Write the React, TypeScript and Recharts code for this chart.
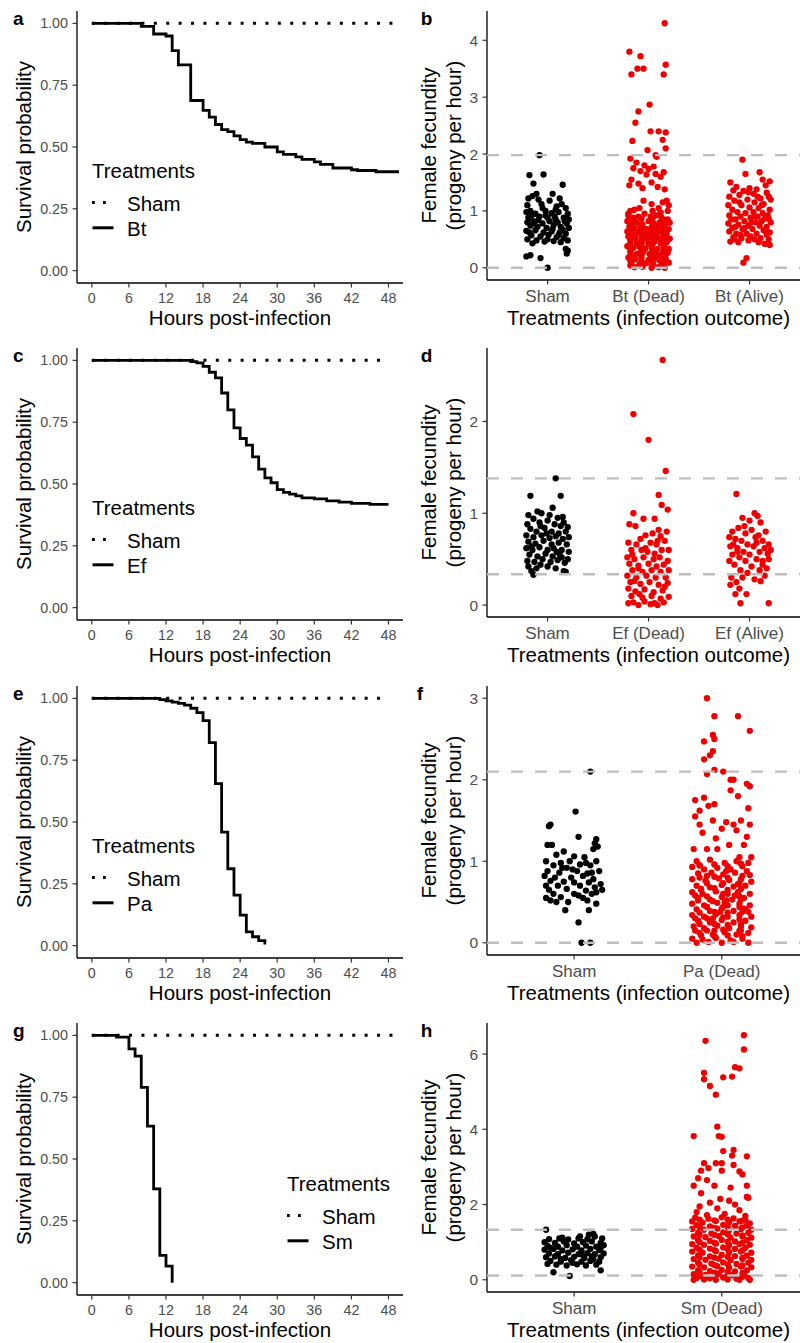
import React from 'react';
import { LineChart, Line, XAxis, YAxis, ScatterChart, Scatter, Legend } from 'recharts';

const FONT = '"Liberation Sans", Arial, Helvetica, sans-serif';
const RED = '#EE0000';
const BLACK = '#000000';
const DASH_GREY = '#BEBEBE';
const TICK_GREY = '#4D4D4D';

// ---------- survival panels (a, c, e, g) ----------
const hourTicks = [0, 6, 12, 18, 24, 30, 36, 42, 48];
const survTicks = [0, 0.25, 0.5, 0.75, 1];

const btTimes = [0, 8, 10, 12, 13, 14, 16, 18, 19, 20, 21, 22, 23, 24, 25, 26, 28, 30, 31, 33, 34, 36, 37, 39, 42, 43, 46, 49.7];
const btSurv = [1, 0.988, 0.957, 0.949, 0.89, 0.832, 0.688, 0.648, 0.621, 0.591, 0.57, 0.562, 0.545, 0.53, 0.52, 0.515, 0.5, 0.48, 0.47, 0.46, 0.45, 0.44, 0.43, 0.415, 0.408, 0.405, 0.4, 0.4];

const efTimes = [0, 16, 17, 18, 19, 20, 21, 22, 23, 24, 25, 26, 27, 28, 29, 30, 31, 32, 33, 34, 36, 38, 40, 42, 45, 48];
const efSurv = [1, 0.995, 0.99, 0.976, 0.952, 0.929, 0.868, 0.8, 0.727, 0.684, 0.657, 0.61, 0.56, 0.525, 0.505, 0.477, 0.466, 0.459, 0.452, 0.444, 0.44, 0.432, 0.427, 0.422, 0.418, 0.418];

const paTimes = [0, 11, 12, 13, 14, 15, 16, 17, 18, 19, 20, 21, 22, 23, 24, 25, 26, 27, 28, 28.2];
const paSurv = [1, 0.995, 0.99, 0.985, 0.98, 0.973, 0.96, 0.942, 0.91, 0.821, 0.655, 0.459, 0.311, 0.204, 0.123, 0.056, 0.036, 0.02, 0.01, 0.01];

const smTimes = [0, 4, 6, 7, 8, 9, 10, 11, 12, 13];
const smSurv = [1, 0.993, 0.945, 0.916, 0.79, 0.633, 0.379, 0.11, 0.067, 0];

// ---------- fecundity panels (b, d, f, h) : [jitter, value] ----------
type Pt = [number, number];

const bCats = ['Sham', 'Bt (Dead)', 'Bt (Alive)'];
const dCats = ['Sham', 'Ef (Dead)', 'Ef (Alive)'];
const fCats = ['Sham', 'Pa (Dead)'];
const hCats = ['Sham', 'Sm (Dead)'];

const bSham: Pt[] = [
  [-0.08, 1.98], [0.0, 0.0], [-0.18, 1.63], [-0.04, 1.64], [-0.14, 1.48], [0.15, 1.46], [0.05, 1.3], [-0.11, 1.3], [-0.19, 1.22], [-0.15, 1.26],
  [-0.09, 1.2], [0.12, 1.22], [0.02, 1.18], [0.14, 1.12], [-0.2, 1.1], [-0.06, 1.12], [0.09, 1.08], [0.18, 1.05], [-0.21, 0.98], [-0.17, 1.0],
  [-0.12, 0.95], [-0.02, 1.0], [0.04, 0.96], [0.11, 0.98], [0.2, 0.95], [-0.19, 0.88], [-0.08, 0.9], [0.0, 0.88], [0.07, 0.9], [0.16, 0.88],
  [0.21, 0.85], [-0.2, 0.8], [-0.14, 0.82], [-0.05, 0.78], [0.02, 0.82], [0.1, 0.8], [0.19, 0.78], [-0.17, 0.74], [-0.1, 0.72], [-0.01, 0.7],
  [0.06, 0.75], [0.13, 0.72], [0.21, 0.7], [-0.21, 0.65], [-0.12, 0.66], [-0.04, 0.62], [0.04, 0.64], [0.12, 0.62], [0.18, 0.6], [-0.16, 0.57],
  [-0.07, 0.55], [0.01, 0.58], [0.09, 0.54], [0.16, 0.52], [-0.2, 0.5], [-0.11, 0.48], [-0.03, 0.46], [0.06, 0.47], [0.13, 0.45], [-0.15, 0.43],
  [0.0, 0.5], [0.2, 0.48], [-0.21, 0.2], [-0.17, 0.22], [-0.07, 0.17], [0.19, 0.25], [0.18, 0.33], [0.2, 0.3], [-0.16, 0.92], [0.08, 0.85],
  [-0.09, 0.84], [0.15, 0.67], [-0.18, 0.62], [0.05, 0.68], [-0.13, 0.78], [0.17, 0.82], [-0.02, 0.92], [0.11, 0.58], [0.08, 1.02], [-0.05, 1.05],
];

const bDead: Pt[] = [
  [0.16, 4.3], [-0.19, 3.8], [-0.08, 3.72], [0.17, 3.57], [-0.11, 3.5], [-0.05, 3.5], [-0.17, 3.4], [0.15, 3.4], [0.01, 2.87], [-0.1, 2.75],
  [-0.13, 2.55], [0.02, 2.4], [0.1, 2.4], [0.17, 2.38], [0.14, 2.25], [-0.16, 2.23], [0.17, 2.1], [-0.01, 2.07], [0.07, 1.98], [0.08, 1.95],
  [-0.18, 1.92], [-0.12, 1.85], [-0.04, 1.8], [0.05, 1.78], [-0.15, 1.75], [0.0, 1.74], [0.15, 1.68], [-0.08, 1.7], [-0.02, 1.64], [0.07, 1.65],
  [-0.17, 1.55], [0.12, 1.6], [-0.19, 1.45], [-0.1, 1.48], [0.03, 1.5], [-0.06, 1.4], [0.16, 1.38], [0.09, 1.42], [0.18, 1.18], [0.14, 1.15],
  [0.2, 1.1], [0.03, 1.12], [-0.05, 1.18], [0.1, 1.05], [-0.14, 1.02], [0.19, 1.0], [-0.2, 0.95], [-0.18, 1.0], [0.04, 1.0], [-0.09, 1.05],
  [0.12, 0.97], [-0.2, 0.92], [-0.15, 0.88], [-0.1, 0.9], [-0.04, 0.95], [0.02, 0.9], [0.08, 0.92], [0.13, 0.88], [0.19, 0.85], [-0.21, 0.82],
  [-0.17, 0.78], [-0.12, 0.8], [-0.06, 0.76], [0.0, 0.82], [0.05, 0.78], [0.11, 0.8], [0.16, 0.76], [0.21, 0.79], [-0.19, 0.72], [-0.14, 0.7],
  [-0.08, 0.73], [-0.02, 0.68], [0.03, 0.71], [0.09, 0.69], [0.14, 0.72], [0.2, 0.68], [-0.21, 0.64], [-0.16, 0.61], [-0.11, 0.63], [-0.05, 0.6],
  [0.01, 0.62], [0.07, 0.6], [0.12, 0.63], [0.18, 0.6], [-0.2, 0.55], [-0.13, 0.53], [-0.07, 0.56], [-0.01, 0.52], [0.05, 0.55], [0.1, 0.52],
  [0.16, 0.54], [0.21, 0.51], [-0.18, 0.46], [-0.12, 0.44], [-0.06, 0.47], [0.0, 0.43], [0.06, 0.46], [0.12, 0.43], [0.18, 0.45], [-0.21, 0.38],
  [-0.15, 0.35], [-0.09, 0.37], [-0.03, 0.34], [0.03, 0.37], [0.09, 0.33], [0.15, 0.36], [0.2, 0.33], [-0.18, 0.27], [-0.11, 0.25], [-0.05, 0.28],
  [0.01, 0.24], [0.07, 0.27], [0.13, 0.24], [0.19, 0.26], [-0.2, 0.18], [-0.13, 0.15], [-0.07, 0.17], [0.0, 0.14], [0.06, 0.16], [0.11, 0.13],
  [0.17, 0.16], [-0.17, 0.08], [-0.09, 0.06], [-0.02, 0.08], [0.05, 0.05], [0.13, 0.07], [0.2, 0.09], [-0.14, 0.01], [-0.06, 0.02], [0.03, 0.0],
  [0.1, 0.01], [0.16, 0.0], [-0.16, 0.67], [0.08, 0.75], [-0.03, 0.58], [0.15, 0.5], [-0.1, 0.42], [0.04, 0.3], [-0.15, 0.22], [0.1, 0.2],
  [-0.18, 0.87], [-0.07, 0.86], [0.04, 0.87], [0.15, 0.84], [-0.18, 0.75], [-0.07, 0.76], [0.04, 0.74], [0.15, 0.75], [-0.18, 0.66], [-0.07, 0.67],
  [0.04, 0.66], [0.15, 0.65], [-0.18, 0.58], [-0.07, 0.58], [0.04, 0.58], [0.15, 0.58], [-0.18, 0.5], [-0.07, 0.5], [0.04, 0.51], [0.15, 0.49],
  [-0.18, 0.41], [-0.07, 0.4], [0.04, 0.41], [0.15, 0.4], [-0.18, 0.31], [-0.07, 0.3], [0.04, 0.31], [0.15, 0.3], [-0.18, 0.21], [-0.07, 0.22],
  [0.04, 0.2], [0.15, 0.21], [-0.18, 0.12], [-0.07, 0.11], [0.04, 0.12], [0.15, 0.11], [-0.18, 0.04], [-0.07, 0.03], [0.04, 0.04], [0.15, 0.03],
];

const bAlive: Pt[] = [
  [-0.07, 1.9], [-0.04, 1.65], [0.1, 1.68], [-0.19, 1.5], [0.13, 1.55], [0.2, 1.52], [0.16, 1.45], [-0.13, 1.42], [0.0, 1.4], [0.07, 1.38],
  [-0.16, 1.36], [-0.06, 1.35], [0.04, 1.3], [0.17, 1.32], [0.21, 1.2], [0.19, 1.25], [-0.2, 1.25], [-0.1, 1.28], [0.11, 1.22], [-0.15, 1.18],
  [-0.02, 1.2], [0.05, 1.15], [0.14, 1.12], [-0.21, 1.1], [-0.08, 1.1], [0.0, 1.06], [0.09, 1.05], [0.2, 1.02], [-0.17, 1.02], [-0.12, 0.98],
  [-0.04, 0.96], [0.04, 0.98], [0.13, 0.96], [0.18, 0.92], [-0.2, 0.92], [-0.09, 0.9], [0.01, 0.88], [0.08, 0.9], [0.15, 0.86], [-0.14, 0.85],
  [-0.05, 0.82], [0.06, 0.8], [0.12, 0.82], [0.21, 0.8], [-0.21, 0.78], [-0.11, 0.76], [-0.01, 0.74], [0.1, 0.74], [0.17, 0.72], [-0.17, 0.7],
  [-0.07, 0.68], [0.03, 0.68], [0.14, 0.66], [0.2, 0.62], [-0.2, 0.64], [-0.13, 0.6], [-0.03, 0.6], [0.07, 0.6], [0.17, 0.58], [-0.16, 0.54],
  [-0.08, 0.52], [0.01, 0.55], [0.11, 0.52], [0.19, 0.5], [-0.19, 0.46], [-0.11, 0.45], [-0.01, 0.48], [0.09, 0.45], [0.15, 0.42], [0.2, 0.4],
  [-0.15, 0.5], [0.05, 0.5], [-0.05, 0.7], [0.02, 0.8], [-0.18, 0.85], [0.19, 0.86], [-0.03, 0.17], [-0.06, 0.09], [0.12, 1.1], [-0.1, 1.15],
  [0.08, 1.25], [-0.01, 1.33], [-0.14, 0.72], [0.16, 0.64], [-0.09, 0.58], [0.05, 0.9],
];

const dSham: Pt[] = [
  [0.08, 1.38], [-0.17, 1.19], [0.13, 1.19], [0.05, 1.06], [-0.1, 1.02], [-0.06, 1.0], [-0.19, 0.98], [0.16, 0.9], [0.02, 0.98], [-0.14, 0.94],
  [0.1, 0.95], [-0.2, 0.88], [-0.08, 0.9], [0.0, 0.92], [0.07, 0.88], [0.13, 0.86], [0.2, 0.85], [-0.17, 0.83], [-0.11, 0.8], [-0.03, 0.84],
  [0.04, 0.8], [0.11, 0.78], [0.18, 0.8], [-0.21, 0.76], [-0.14, 0.74], [-0.06, 0.76], [0.02, 0.73], [0.08, 0.75], [0.15, 0.72], [0.21, 0.74],
  [-0.19, 0.69], [-0.12, 0.67], [-0.04, 0.7], [0.04, 0.66], [0.11, 0.68], [0.19, 0.66], [-0.21, 0.62], [-0.15, 0.6], [-0.08, 0.63], [0.0, 0.6],
  [0.06, 0.62], [0.14, 0.6], [0.21, 0.58], [-0.18, 0.55], [-0.1, 0.53], [-0.02, 0.56], [0.05, 0.53], [0.12, 0.55], [0.2, 0.5], [-0.2, 0.48],
  [-0.13, 0.47], [-0.05, 0.5], [0.03, 0.47], [0.1, 0.49], [0.17, 0.46], [-0.19, 0.42], [-0.11, 0.4], [0.0, 0.42], [0.08, 0.4], [-0.16, 0.37],
  [-0.14, 0.33], [0.16, 0.37], [0.18, 0.36], [-0.07, 0.86], [0.15, 0.96], [-0.01, 0.78], [-0.16, 0.64], [0.09, 0.58], [-0.07, 0.44], [0.14, 0.52],
];

const dDead: Pt[] = [
  [0.14, 2.67], [-0.15, 2.08], [0.0, 1.8], [0.17, 1.46], [0.1, 1.2], [0.13, 1.09], [0.19, 1.04], [-0.15, 1.0], [-0.05, 0.94], [0.06, 0.94],
  [-0.19, 0.88], [-0.13, 0.86], [0.18, 0.8], [0.1, 0.82], [-0.03, 0.76], [0.04, 0.78], [0.12, 0.75], [-0.08, 0.72], [0.16, 0.7], [-0.2, 0.68],
  [-0.12, 0.66], [0.02, 0.68], [0.08, 0.66], [0.2, 0.6], [-0.17, 0.6], [-0.07, 0.6], [0.13, 0.6], [-0.01, 0.58], [-0.21, 0.52], [-0.14, 0.5],
  [-0.05, 0.52], [0.05, 0.5], [0.11, 0.52], [0.19, 0.48], [-0.19, 0.45], [-0.1, 0.43], [0.0, 0.45], [0.08, 0.42], [0.15, 0.44], [-0.16, 0.38],
  [-0.06, 0.36], [0.03, 0.38], [0.12, 0.36], [0.2, 0.38], [-0.21, 0.32], [-0.12, 0.3], [-0.02, 0.32], [0.07, 0.3], [0.17, 0.3], [-0.18, 0.25],
  [-0.08, 0.23], [0.01, 0.25], [0.1, 0.22], [0.19, 0.24], [-0.2, 0.18], [-0.13, 0.15], [-0.04, 0.17], [0.05, 0.14], [0.14, 0.16], [-0.17, 0.1],
  [-0.06, 0.08], [0.03, 0.1], [0.12, 0.07], [0.2, 0.09], [-0.15, 0.03], [-0.04, 0.04], [0.06, 0.02], [0.15, 0.03], [-0.2, 0.02], [0.09, 0.0],
  [-0.1, 0.0], [0.02, 0.01], [-0.16, 0.55], [0.06, 0.56], [-0.1, 0.4], [0.16, 0.2], [-0.09, 0.12], [-0.03, 0.62], [0.09, 0.7], [-0.14, 0.26],
];

const dAlive: Pt[] = [
  [-0.13, 1.21], [0.05, 1.0], [0.08, 0.97], [-0.07, 0.95], [0.11, 0.9], [0.0, 0.92], [-0.17, 0.8], [-0.11, 0.84], [0.02, 0.82], [0.16, 0.8],
  [-0.04, 0.78], [0.09, 0.76], [-0.2, 0.74], [-0.14, 0.72], [0.06, 0.74], [0.13, 0.7], [-0.08, 0.7], [0.19, 0.66], [-0.02, 0.66], [-0.19, 0.64],
  [0.04, 0.64], [0.15, 0.62], [0.21, 0.6], [-0.12, 0.62], [-0.06, 0.58], [0.1, 0.58], [-0.17, 0.55], [0.0, 0.55], [0.18, 0.56], [-0.1, 0.52],
  [0.07, 0.5], [-0.2, 0.48], [-0.04, 0.48], [0.13, 0.48], [-0.15, 0.44], [0.02, 0.42], [0.17, 0.4], [-0.09, 0.38], [0.1, 0.38], [-0.02, 0.35],
  [0.15, 0.32], [-0.18, 0.3], [-0.07, 0.3], [0.05, 0.28], [0.11, 0.26], [-0.13, 0.25], [-0.19, 0.22], [-0.1, 0.18], [-0.14, 0.12], [-0.03, 0.12],
  [-0.09, 0.02], [0.19, 0.02], [0.13, 0.44], [-0.12, 0.58], [0.07, 0.68], [-0.05, 0.86], [0.19, 0.5], [-0.16, 0.66],
];

const fSham: Pt[] = [
  [0.11, 2.1], [0.05, 0.0], [0.11, 0.0], [0.01, 1.61], [0.03, 0.25], [0.1, 0.4], [-0.06, 0.4], [0.15, 0.48], [-0.17, 1.43], [-0.16, 1.45],
  [0.03, 1.3], [0.15, 1.27], [0.14, 1.22], [0.16, 1.18], [-0.18, 1.2], [-0.15, 1.2], [-0.07, 1.12], [0.13, 1.15], [-0.12, 1.08], [0.0, 1.06],
  [0.07, 1.05], [-0.03, 1.0], [0.15, 1.0], [-0.19, 1.0], [-0.09, 0.98], [0.11, 0.95], [-0.14, 0.95], [0.04, 0.96], [-0.05, 0.92], [0.17, 0.88],
  [-0.18, 0.88], [-0.1, 0.86], [0.02, 0.88], [0.09, 0.85], [-0.2, 0.82], [-0.13, 0.8], [-0.02, 0.8], [0.06, 0.82], [0.13, 0.78], [-0.16, 0.76],
  [-0.07, 0.75], [0.0, 0.74], [0.1, 0.74], [0.18, 0.72], [-0.19, 0.7], [-0.11, 0.7], [0.04, 0.7], [0.14, 0.68], [0.19, 0.65], [-0.17, 0.65],
  [-0.05, 0.66], [0.08, 0.64], [-0.14, 0.6], [0.0, 0.6], [0.12, 0.6], [-0.19, 0.55], [-0.09, 0.56], [0.06, 0.55], [0.03, 0.58], [-0.16, 0.52],
  [-0.12, 0.5], [-0.04, 0.5], [0.09, 0.52], [0.15, 0.62], [-0.08, 0.92], [0.08, 0.98], [-0.01, 0.9], [0.12, 0.86],
];

const fDead: Pt[] = [
  [-0.1, 3.0], [-0.05, 2.78], [0.11, 2.78], [0.19, 2.6], [-0.06, 2.55], [-0.05, 2.5], [-0.12, 2.47], [-0.06, 2.35], [-0.08, 2.3], [-0.12, 2.25],
  [-0.05, 2.12], [-0.1, 2.07], [0.01, 2.1], [0.06, 2.0], [0.08, 2.0], [0.17, 1.95], [0.19, 1.92], [0.06, 1.87], [0.11, 1.8], [-0.12, 1.78],
  [-0.18, 1.75], [-0.05, 1.7], [-0.09, 1.68], [-0.15, 1.62], [0.18, 1.65], [-0.18, 1.55], [-0.06, 1.5], [0.03, 1.48], [0.13, 1.5], [0.08, 1.45],
  [-0.15, 1.45], [0.19, 1.45], [0.0, 1.4], [-0.13, 1.35], [0.1, 1.38], [0.17, 1.3], [-0.04, 1.28], [-0.19, 1.15], [-0.1, 1.15], [-0.03, 1.15],
  [0.05, 1.2], [0.15, 1.2], [0.2, 1.05], [0.12, 1.05], [-0.17, 1.0], [-0.08, 1.02], [0.02, 0.98], [0.1, 1.0], [0.18, 0.98], [-0.2, 0.93],
  [-0.12, 0.9], [-0.03, 0.92], [0.06, 0.9], [0.14, 0.94], [-0.16, 0.85], [-0.07, 0.86], [0.01, 0.84], [0.09, 0.86], [0.19, 0.83], [-0.2, 0.78],
  [-0.11, 0.76], [-0.02, 0.79], [0.05, 0.77], [0.13, 0.78], [0.2, 0.75], [-0.17, 0.7], [-0.08, 0.68], [0.0, 0.71], [0.08, 0.69], [0.16, 0.7],
  [-0.2, 0.62], [-0.13, 0.6], [-0.04, 0.63], [0.04, 0.6], [0.11, 0.62], [0.19, 0.6], [-0.16, 0.55], [-0.08, 0.53], [0.0, 0.56], [0.07, 0.53],
  [0.15, 0.55], [-0.2, 0.48], [-0.12, 0.46], [-0.03, 0.49], [0.04, 0.46], [0.12, 0.48], [0.19, 0.46], [-0.17, 0.41], [-0.08, 0.39], [0.0, 0.42],
  [0.08, 0.39], [0.16, 0.41], [-0.2, 0.34], [-0.12, 0.32], [-0.04, 0.35], [0.04, 0.32], [0.12, 0.34], [0.2, 0.32], [-0.16, 0.27], [-0.08, 0.25],
  [0.0, 0.28], [0.08, 0.25], [0.16, 0.27], [-0.19, 0.2], [-0.12, 0.18], [-0.03, 0.21], [0.05, 0.18], [0.13, 0.2], [0.2, 0.19], [-0.15, 0.12],
  [-0.06, 0.1], [0.02, 0.13], [0.1, 0.1], [0.18, 0.12], [-0.2, 0.05], [-0.13, 0.04], [-0.04, 0.06], [0.06, 0.03], [0.14, 0.05], [-0.17, 0.0],
  [-0.09, 0.01], [0.0, 0.0], [0.08, 0.01], [0.18, 0.0], [-0.14, 0.65], [0.02, 0.5], [-0.06, 0.3], [0.13, 0.15], [-0.1, 0.82], [0.17, 0.88],
  [-0.01, 0.38], [0.09, 0.58], [-0.18, 0.3], [0.11, 0.72], [-0.05, 0.15], [0.15, 0.42], [-0.15, 0.95], [0.03, 0.88],
  [-0.15, 0.95], [-0.05, 0.96], [0.04, 0.94], [0.13, 0.97], [-0.15, 0.8], [-0.05, 0.81], [0.04, 0.8], [0.14, 0.82], [-0.14, 0.66], [-0.05, 0.67],
  [0.04, 0.65], [0.13, 0.66], [-0.16, 0.52], [-0.06, 0.51], [0.03, 0.52], [0.13, 0.53], [-0.15, 0.37], [-0.05, 0.38], [0.04, 0.37], [0.14, 0.38],
  [-0.15, 0.23], [-0.05, 0.23], [0.04, 0.22], [0.13, 0.23], [-0.14, 0.09], [-0.05, 0.08], [0.04, 0.09], [0.14, 0.08],
  [-0.1, 0.57], [0.01, 0.6], [0.12, 0.57], [-0.1, 0.44], [0.01, 0.44], [0.12, 0.44], [-0.1, 0.3], [0.01, 0.31], [0.12, 0.29], [-0.1, 0.15],
  [0.01, 0.16], [0.12, 0.15], [-0.1, 0.73], [0.01, 0.73], [0.12, 0.73], [-0.18, 0.58], [0.18, 0.38], [-0.18, 0.15],
];

const hSham: Pt[] = [
  [-0.19, 1.33], [-0.03, 0.1], [-0.14, 0.2], [0.18, 0.25], [-0.17, 1.08], [-0.1, 1.1], [-0.04, 1.07], [0.03, 1.1], [0.09, 1.08], [0.14, 1.15],
  [0.19, 1.1], [-0.2, 1.0], [-0.13, 0.98], [-0.07, 1.02], [0.0, 0.97], [0.06, 1.0], [0.12, 1.02], [0.18, 0.98], [-0.18, 0.9], [-0.11, 0.88],
  [-0.05, 0.92], [0.02, 0.88], [0.08, 0.91], [0.15, 0.88], [0.2, 0.92], [-0.2, 0.8], [-0.14, 0.82], [-0.08, 0.78], [-0.01, 0.81], [0.05, 0.78],
  [0.11, 0.82], [0.17, 0.79], [-0.17, 0.7], [-0.11, 0.68], [-0.04, 0.72], [0.03, 0.68], [0.09, 0.71], [0.14, 0.68], [0.2, 0.7], [-0.19, 0.6],
  [-0.13, 0.62], [-0.06, 0.58], [0.0, 0.61], [0.07, 0.58], [0.12, 0.62], [0.18, 0.6], [-0.16, 0.5], [-0.09, 0.48], [-0.02, 0.52], [0.05, 0.48],
  [0.11, 0.5], [0.17, 0.48], [-0.18, 0.42], [-0.12, 0.4], [-0.05, 0.38], [0.02, 0.41], [0.08, 0.38], [0.15, 0.4], [0.1, 1.2], [0.13, 1.22],
  [-0.08, 1.12], [0.04, 1.15], [-0.16, 0.85], [0.06, 0.65], [-0.09, 0.55], [0.18, 0.85], [-0.01, 0.45], [0.13, 0.55],
];

const hDead: Pt[] = [
  [0.15, 6.5], [-0.11, 6.35], [0.15, 6.12], [0.09, 5.65], [0.12, 5.62], [-0.12, 5.5], [0.07, 5.4], [0.01, 5.38], [-0.12, 5.33], [-0.08, 5.15],
  [-0.04, 4.92], [-0.03, 4.07], [-0.19, 3.82], [-0.02, 3.82], [0.0, 3.8], [0.08, 3.45], [0.01, 3.42], [0.07, 3.3], [0.17, 3.28], [-0.12, 3.1],
  [-0.04, 3.1], [0.0, 3.1], [0.08, 3.05], [-0.09, 2.97], [0.0, 2.9], [-0.14, 2.9], [0.12, 2.88], [0.14, 2.8], [-0.16, 2.7], [-0.1, 2.65],
  [-0.19, 2.5], [-0.05, 2.5], [0.17, 2.5], [0.06, 2.45], [-0.14, 2.3], [0.17, 2.2], [0.18, 2.18], [-0.01, 2.15], [0.05, 2.1], [-0.08, 2.05],
  [0.09, 2.0], [-0.15, 1.95], [-0.03, 1.9], [0.12, 1.85], [-0.17, 1.8], [0.02, 1.75], [0.16, 1.7], [-0.1, 1.72],
  [-0.18, 1.65], [-0.09, 1.62], [0.0, 1.66], [0.08, 1.63], [0.16, 1.6], [-0.2, 1.55], [-0.13, 1.52], [-0.04, 1.56], [0.05, 1.53], [0.12, 1.55],
  [0.19, 1.5], [-0.17, 1.45], [-0.08, 1.42], [0.01, 1.46], [0.09, 1.43], [0.17, 1.44], [-0.2, 1.35], [-0.12, 1.33], [-0.03, 1.36], [0.05, 1.32],
  [0.13, 1.35], [0.2, 1.33], [-0.16, 1.25], [-0.07, 1.23], [0.01, 1.26], [0.1, 1.23], [0.18, 1.25], [-0.19, 1.15], [-0.11, 1.13], [-0.02, 1.16],
  [0.06, 1.12], [0.14, 1.15], [0.2, 1.12], [-0.16, 1.05], [-0.08, 1.03], [0.0, 1.06], [0.09, 1.02], [0.17, 1.05], [-0.2, 0.95], [-0.12, 0.93],
  [-0.04, 0.96], [0.05, 0.92], [0.12, 0.95], [0.19, 0.93], [-0.17, 0.85], [-0.08, 0.83], [0.01, 0.86], [0.09, 0.82], [0.16, 0.85], [-0.2, 0.75],
  [-0.13, 0.72], [-0.04, 0.76], [0.05, 0.73], [0.13, 0.75], [0.2, 0.72], [-0.16, 0.65], [-0.08, 0.62], [0.0, 0.66], [0.09, 0.63], [0.17, 0.64],
  [-0.19, 0.55], [-0.11, 0.53], [-0.02, 0.56], [0.06, 0.52], [0.14, 0.55], [0.2, 0.53], [-0.16, 0.45], [-0.07, 0.43], [0.01, 0.46], [0.1, 0.42],
  [0.18, 0.45], [-0.2, 0.35], [-0.12, 0.33], [-0.03, 0.36], [0.05, 0.32], [0.13, 0.35], [0.2, 0.33], [-0.16, 0.25], [-0.08, 0.23], [0.0, 0.26],
  [0.09, 0.22], [0.17, 0.25], [-0.19, 0.15], [-0.11, 0.13], [-0.02, 0.16], [0.07, 0.12], [0.15, 0.15], [-0.17, 0.05], [-0.08, 0.04], [0.01, 0.06],
  [0.1, 0.03], [0.18, 0.05], [-0.19, 0.0], [-0.12, 0.01], [-0.04, 0.0], [0.04, 0.01], [0.12, 0.0], [0.19, 0.0],
  [-0.15, 1.6], [-0.05, 1.58], [0.04, 1.6], [0.14, 1.57], [-0.15, 1.4], [-0.05, 1.38], [0.04, 1.41], [0.14, 1.39], [-0.15, 1.2], [-0.05, 1.19],
  [0.04, 1.21], [0.14, 1.18], [-0.15, 1.0], [-0.05, 0.99], [0.04, 1.01], [0.14, 0.98], [-0.15, 0.8], [-0.05, 0.79], [0.04, 0.81], [0.14, 0.78],
  [-0.15, 0.6], [-0.05, 0.59], [0.04, 0.61], [0.14, 0.58], [-0.15, 0.4], [-0.05, 0.39], [0.04, 0.41], [0.14, 0.38], [-0.15, 0.2], [-0.05, 0.19],
  [0.04, 0.21], [0.14, 0.18], [-0.15, 0.1], [-0.05, 0.09], [0.04, 0.11], [0.14, 0.08],
];

// dashed reference levels per panel
const bLines = [1.98, 0.0];
const dLines = [1.38, 0.335];
const fLines = [2.1, 0.0];
const hLines = [1.33, 0.115];

// ---------- helpers ----------
function buildSurvData(times: number[], surv: number[], shamEnd: number) {
  const all = Array.from(new Set([...times, 0, shamEnd])).sort((a, b) => a - b);
  return all.map((t) => {
    const i = times.indexOf(t);
    return { t, inf: i >= 0 ? surv[i] : null, sham: t <= shamEnd ? 1 : null };
  });
}

const axisLineStyle = { stroke: '#000000', strokeWidth: 1.3 };
const tickLineStyle = { stroke: '#333333', strokeWidth: 1.2 };

function SurvLegend({ payload, name }: any) {
  const values: string[] = payload && payload.length ? payload.map((p: any) => String(p.value)) : ['Sham', name];
  // ggplot order: Sham first, then the infection treatment
  const items = [...values.filter((v) => v === 'Sham'), ...values.filter((v) => v !== 'Sham')];
  return (
    <svg width={130} height={82} style={{ display: 'block', overflow: 'visible' }}>
      <text x={2} y={18.3} fontSize={20.5} fontFamily={FONT} fill="#000">Treatments</text>
      {items.map((v: string, i: number) => (
        <g key={i}>
          {v === 'Sham' ? (
            <line x1={2} x2={17} y1={42.5 + 25 * i} y2={42.5 + 25 * i} stroke="#000" strokeWidth={2.8} strokeDasharray="2.8 8.2" />
          ) : (
            <line x1={2.5} x2={23.5} y1={42.8 + 25 * i} y2={42.8 + 25 * i} stroke="#000" strokeWidth={3} />
          )}
          <text x={37} y={50.7 + 25 * i} fontSize={20.5} fontFamily={FONT} fill="#000">{v}</text>
        </g>
      ))}
    </svg>
  );
}

function SurvivalPanel({ top, letter, name, times, surv, shamEnd, legendLeft, legendTop }: any) {
  const data = buildSurvData(times, surv, shamEnd);
  return (
    <div style={{ position: 'absolute', left: 0, top, width: 405, height: 337 }}>
      <LineChart width={405} height={337} data={data} margin={{ top: 11, right: 2, bottom: 0, left: 0 }}>
        <XAxis
          dataKey="t" type="number" domain={[-2.4, 50.35]} allowDataOverflow ticks={hourTicks} interval={0} height={54}
          axisLine={axisLineStyle} tickLine={tickLineStyle} tickSize={4.5} tickMargin={5}
          tick={{ fill: TICK_GREY, fontSize: 14.3, fontFamily: FONT }}
          label={() => (
            <text x={240} y={325} textAnchor="middle" fontSize={20.5} fontFamily={FONT} fill="#000">Hours post-infection</text>
          )}
        />
        <YAxis
          type="number" domain={[-0.05, 1.05]} allowDataOverflow ticks={survTicks} interval={0} width={77}
          tickFormatter={(v: number) => v.toFixed(2)}
          axisLine={axisLineStyle} tickLine={tickLineStyle} tickSize={4.5} tickMargin={4.5}
          tick={{ fill: TICK_GREY, fontSize: 14.3, fontFamily: FONT }}
          label={() => (
            <g>
              <text x={13} y={25} fontSize={19} fontWeight="bold" fontFamily={FONT} fill="#000">{letter}</text>
              <text x={31} y={147} transform="rotate(-90 31 147)" textAnchor="middle" fontSize={20.5} fontFamily={FONT} fill="#000">Survival probability</text>
            </g>
          )}
        />
        <Line dataKey="sham" name="Sham" type="linear" stroke="#000" strokeWidth={3} strokeDasharray="3 9.4" dot={false} activeDot={false} connectNulls isAnimationActive={false} />
        <Line dataKey="inf" name={name} type="stepAfter" stroke="#000" strokeWidth={2.8} dot={false} activeDot={false} isAnimationActive={false} />
        <Legend
          verticalAlign="middle" align="center" layout="horizontal"
          wrapperStyle={{ left: legendLeft, top: legendTop, width: 130, height: 82 }}
          content={(p: any) => <SurvLegend payload={p.payload} name={name} />}
        />
      </LineChart>
    </div>
  );
}

function FecundityPanel({ top, letter, letterX, cats, groups, yDomain, yTicks, xDomain, levels }: any) {
  return (
    <div style={{ position: 'absolute', left: 400, top, width: 400, height: 337 }}>
      <ScatterChart width={400} height={337} margin={{ top: 11, right: 0, bottom: 0, left: 0 }}>
        <XAxis
          dataKey="x" type="number" domain={xDomain} allowDataOverflow ticks={cats.map((_: string, i: number) => i + 1)} interval={0}
          tickFormatter={(v: number) => cats[Math.round(v) - 1]} height={57}
          axisLine={axisLineStyle} tickLine={tickLineStyle} tickSize={4.5} tickMargin={5.8}
          tick={{ fill: TICK_GREY, fontSize: 17, fontFamily: FONT }}
          label={() => (
            <text x={248.5} y={325} textAnchor="middle" fontSize={20.5} fontFamily={FONT} fill="#000">Treatments (infection outcome)</text>
          )}
        />
        <YAxis
          dataKey="y" type="number" domain={yDomain} allowDataOverflow ticks={yTicks} interval={0} width={87}
          axisLine={axisLineStyle} tickLine={tickLineStyle} tickSize={4.5} tickMargin={4.5}
          tick={{ fill: TICK_GREY, fontSize: 15.5, fontFamily: FONT }}
          label={() => (
            <g>
              <text x={letterX} y={25} fontSize={19} fontWeight="bold" fontFamily={FONT} fill="#000">{letter}</text>
              <text x={36} y={145.5} transform="rotate(-90 36 145.5)" textAnchor="middle" fontSize={20.5} fontFamily={FONT} fill="#000">Female fecundity</text>
              <text x={60.7} y={145.5} transform="rotate(-90 60.7 145.5)" textAnchor="middle" fontSize={20.5} fontFamily={FONT} fill="#000">(progeny per hour)</text>
            </g>
          )}
        />
        {groups.map((g: any, gi: number) => (
          <Scatter
            key={'g' + gi}
            name={cats[g.cat - 1]}
            data={g.pts.map(([dx, y]: Pt) => ({ x: g.cat + dx, y }))}
            fill={g.color}
            shape={(p: any) => <circle cx={p.cx} cy={p.cy} r={3.15} fill={g.color} />}
            isAnimationActive={false}
          />
        ))}
        {levels.map((v: number, i: number) => (
          <Scatter
            key={'l' + i}
            data={[{ x: xDomain[0], y: v }, { x: xDomain[1], y: v }]}
            fill={DASH_GREY}
            line={{ stroke: DASH_GREY, strokeWidth: 2.4, strokeDasharray: '12 12' }}
            shape={() => <g />}
            legendType="none"
            isAnimationActive={false}
          />
        ))}
      </ScatterChart>
    </div>
  );
}

export default function App() {
  const rows = [0, 337, 675, 1012];
  return (
    <div style={{ position: 'absolute', left: 0, top: 0, width: 800, height: 1343, background: '#ffffff', overflow: 'hidden', fontFamily: FONT }}>
      <SurvivalPanel top={rows[0]} letter="a" name="Bt" times={btTimes} surv={btSurv} shamEnd={49.7} legendLeft={90} legendTop={160} />
      <SurvivalPanel top={rows[1]} letter="c" name="Ef" times={efTimes} surv={efSurv} shamEnd={48} legendLeft={90} legendTop={160} />
      <SurvivalPanel top={rows[2]} letter="e" name="Pa" times={paTimes} surv={paSurv} shamEnd={48} legendLeft={90} legendTop={160} />
      <SurvivalPanel top={rows[3]} letter="g" name="Sm" times={smTimes} surv={smSurv} shamEnd={49.7} legendLeft={285} legendTop={161} />

      <FecundityPanel
        top={rows[0]} letter="b" letterX={20.7} cats={bCats}
        groups={[{ cat: 1, color: BLACK, pts: bSham }, { cat: 2, color: RED, pts: bDead }, { cat: 3, color: RED, pts: bAlive }]}
        yDomain={[-0.215, 4.515]} yTicks={[0, 1, 2, 3, 4]} xDomain={[0.4, 3.5]} levels={bLines}
      />
      <FecundityPanel
        top={rows[1]} letter="d" letterX={20.7} cats={dCats}
        groups={[{ cat: 1, color: BLACK, pts: dSham }, { cat: 2, color: RED, pts: dDead }, { cat: 3, color: RED, pts: dAlive }]}
        yDomain={[-0.13, 2.8]} yTicks={[0, 1, 2]} xDomain={[0.4, 3.5]} levels={dLines}
      />
      <FecundityPanel
        top={rows[2]} letter="f" letterX={16.7} cats={fCats}
        groups={[{ cat: 1, color: BLACK, pts: fSham }, { cat: 2, color: RED, pts: fDead }]}
        yDomain={[-0.15, 3.15]} yTicks={[0, 1, 2, 3]} xDomain={[0.41, 2.53]} levels={fLines}
      />
      <FecundityPanel
        top={rows[3]} letter="h" letterX={20.7} cats={hCats}
        groups={[{ cat: 1, color: BLACK, pts: hSham }, { cat: 2, color: RED, pts: hDead }]}
        yDomain={[-0.325, 6.825]} yTicks={[0, 2, 4, 6]} xDomain={[0.41, 2.53]} levels={hLines}
      />
    </div>
  );
}
